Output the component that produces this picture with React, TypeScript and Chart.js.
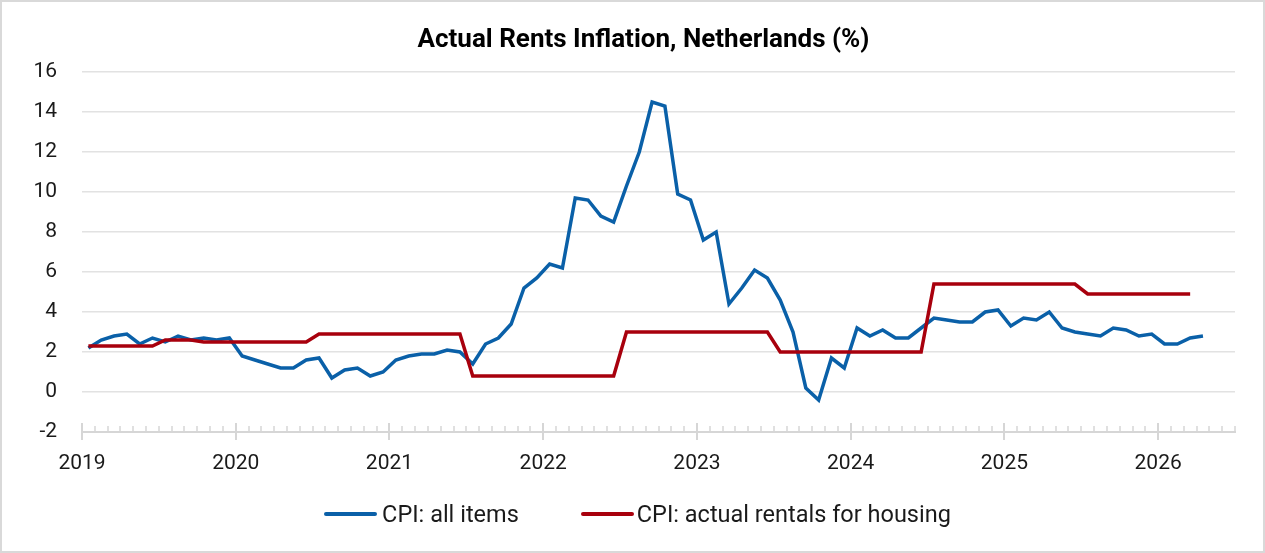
import React, { useEffect, useRef } from 'react';
import { Chart, registerables } from 'chart.js';

Chart.register(...registerables);

// ---- data ----
const startYear = 2019;
const yearLabels = ['2019', '2020', '2021', '2022', '2023', '2024', '2025', '2026'];

// CPI: all items, y/y %, monthly Jan 2019 .. Apr 2026
const cpiAllItems = [
  2.2, 2.6, 2.8, 2.9, 2.4, 2.7, 2.5, 2.8, 2.6, 2.7, 2.6, 2.7,
  1.8, 1.6, 1.4, 1.2, 1.2, 1.6, 1.7, 0.7, 1.1, 1.2, 0.8, 1.0,
  1.6, 1.8, 1.9, 1.9, 2.1, 2.0, 1.4, 2.4, 2.7, 3.4, 5.2, 5.7,
  6.4, 6.2, 9.7, 9.6, 8.8, 8.5, 10.3, 12.0, 14.5, 14.3, 9.9, 9.6,
  7.6, 8.0, 4.4, 5.2, 6.1, 5.7, 4.6, 3.0, 0.2, -0.4, 1.7, 1.2,
  3.2, 2.8, 3.1, 2.7, 2.7, 3.2, 3.7, 3.6, 3.5, 3.5, 4.0, 4.1,
  3.3, 3.7, 3.6, 4.0, 3.2, 3.0, 2.9, 2.8, 3.2, 3.1, 2.8, 2.9,
  2.4, 2.4, 2.7, 2.8,
];

// CPI: actual rentals for housing, y/y %, monthly Jan 2019 .. Mar 2026
const cpiRents = [
  2.3, 2.3, 2.3, 2.3, 2.3, 2.3, 2.6, 2.6, 2.6, 2.5, 2.5, 2.5,
  2.5, 2.5, 2.5, 2.5, 2.5, 2.5, 2.9, 2.9, 2.9, 2.9, 2.9, 2.9,
  2.9, 2.9, 2.9, 2.9, 2.9, 2.9, 0.8, 0.8, 0.8, 0.8, 0.8, 0.8,
  0.8, 0.8, 0.8, 0.8, 0.8, 0.8, 3.0, 3.0, 3.0, 3.0, 3.0, 3.0,
  3.0, 3.0, 3.0, 3.0, 3.0, 3.0, 2.0, 2.0, 2.0, 2.0, 2.0, 2.0,
  2.0, 2.0, 2.0, 2.0, 2.0, 2.0, 5.4, 5.4, 5.4, 5.4, 5.4, 5.4,
  5.4, 5.4, 5.4, 5.4, 5.4, 5.4, 4.9, 4.9, 4.9, 4.9, 4.9, 4.9,
  4.9, 4.9, 4.9,
];

// month categories (YYYY-MM)
const months = cpiAllItems.map((_, i) => {
  const y = startYear + Math.floor(i / 12);
  const m = (i % 12) + 1;
  return `${y}-${m < 10 ? '0' + m : m}`;
});

const seriesNames = ['CPI: all items', 'CPI: actual rentals for housing'];
const BLUE = '#0a60a8';
const RED = '#a8000d';
const AXIS_MONTHS = 90; // Jan 2019 .. Jul 2026

const toPoints = (vals: number[]) => vals.map((v, i) => ({ x: i + 0.5, y: v, month: months[i] }));

const monthTicks = {
  id: 'monthTicks',
  beforeDatasetsDraw(chart: any) {
    const xs = chart.scales.x;
    const ctx = chart.ctx;
    const y0 = xs.top;
    ctx.save();
    ctx.strokeStyle = '#d6d6d6';
    for (let m = 0; m <= AXIS_MONTHS; m++) {
      const major = m % 12 === 0;
      const px = Math.round(xs.getPixelForValue(m));
      ctx.lineWidth = major ? 2 : 1.5;
      ctx.beginPath();
      ctx.moveTo(px, major ? y0 - 9 : y0 - 6);
      ctx.lineTo(px, major ? y0 + 8 : y0);
      ctx.stroke();
    }
    ctx.restore();
  },
};

// shift the title's centring box slightly right, as in the original layout
const titleShift = {
  id: 'titleShift',
  afterLayout(chart: any) {
    const tb = chart.titleBlock;
    if (tb) {
      tb.left = 52;
      tb.right = chart.chartArea.right;
    }
  },
};

export default function App() {
  const canvasRef = useRef<HTMLCanvasElement | null>(null);

  useEffect(() => {
    const canvas = canvasRef.current;
    if (!canvas) return;
    const tickFont = { family: 'Roboto', size: 21, weight: 'normal' as const, lineHeight: 1.2 };
    const chart = new Chart(canvas, {
      type: 'line',
      data: {
        datasets: [
          {
            label: seriesNames[0],
            data: toPoints(cpiAllItems),
            borderColor: BLUE,
            backgroundColor: BLUE,
            borderWidth: 3.5,
            pointRadius: 0,
            tension: 0,
            order: 2,
          },
          {
            label: seriesNames[1],
            data: toPoints(cpiRents),
            borderColor: RED,
            backgroundColor: RED,
            borderWidth: 3.5,
            pointRadius: 0,
            tension: 0,
            order: 1,
          },
        ],
      },
      options: {
        responsive: false,
        animation: false,
        devicePixelRatio: 1,
        layout: { padding: { left: 0, right: 30, top: 0, bottom: 0 } },
        plugins: {
          legend: { display: false },
          tooltip: { enabled: false },
          title: {
            display: true,
            text: 'Actual Rents Inflation, Netherlands (%)',
            color: '#000',
            font: { family: 'Roboto', size: 26, weight: 'bold', lineHeight: 1.2 },
            padding: { top: 24.5, bottom: 16.3 },
          },
        },
        scales: {
          x: {
            type: 'linear',
            min: 0,
            max: AXIS_MONTHS,
            grid: { display: false, drawTicks: false },
            border: { display: true, color: '#d6d6d6', width: 2 },
            ticks: {
              stepSize: 12,
              includeBounds: false,
              autoSkip: false,
              maxRotation: 0,
              padding: 19,
              color: '#1a1a1a',
              font: tickFont,
              callback: (v: any) => {
                const idx = Number(v) / 12;
                return Number.isInteger(idx) && yearLabels[idx] ? yearLabels[idx] : null;
              },
            },
            afterFit: (s: any) => {
              s.height = 121;
            },
          },
          y: {
            min: -2,
            max: 16,
            grid: {
              drawTicks: false,
              lineWidth: 1.5,
              color: (ctx: any) => (ctx.tick && ctx.tick.value === -2 ? 'rgba(0,0,0,0)' : '#e2e2e2'),
            },
            border: { display: false },
            ticks: {
              stepSize: 2,
              padding: 25,
              color: '#1a1a1a',
              font: tickFont,
            },
            afterFit: (s: any) => {
              s.width = 82;
            },
          },
        },
      },
      plugins: [monthTicks, titleShift],
    });
    return () => chart.destroy();
  }, []);

  const legendItem = (color: string, text: string, gap: number) => (
    <div style={{ display: 'flex', alignItems: 'center' }}>
      <span
        style={{
          display: 'inline-block',
          width: 53,
          height: 4,
          borderRadius: 2,
          background: color,
          marginRight: gap,
        }}
      />
      <span>{text}</span>
    </div>
  );

  return (
    <div
      style={{
        position: 'fixed',
        left: 0,
        top: 0,
        width: 1265,
        height: 553,
        background: '#fff',
        overflow: 'hidden',
      }}
    >
      <canvas ref={canvasRef} width={1265} height={553} style={{ display: 'block' }} />
      <div
        style={{
          position: 'absolute',
          left: 0,
          top: 499,
          width: 1265,
          height: 30,
          display: 'flex',
          justifyContent: 'center',
          alignItems: 'center',
          gap: 62,
          fontFamily: 'Roboto',
          fontSize: 23.5,
          color: '#1a1a1a',
          paddingLeft: 10,
          boxSizing: 'border-box',
        }}
      >
        {legendItem(BLUE, seriesNames[0], 5)}
        {legendItem(RED, seriesNames[1], 3)}
      </div>
      <div
        style={{
          position: 'absolute',
          inset: 0,
          border: '2px solid #d9d9d9',
          pointerEvents: 'none',
        }}
      />
    </div>
  );
}
